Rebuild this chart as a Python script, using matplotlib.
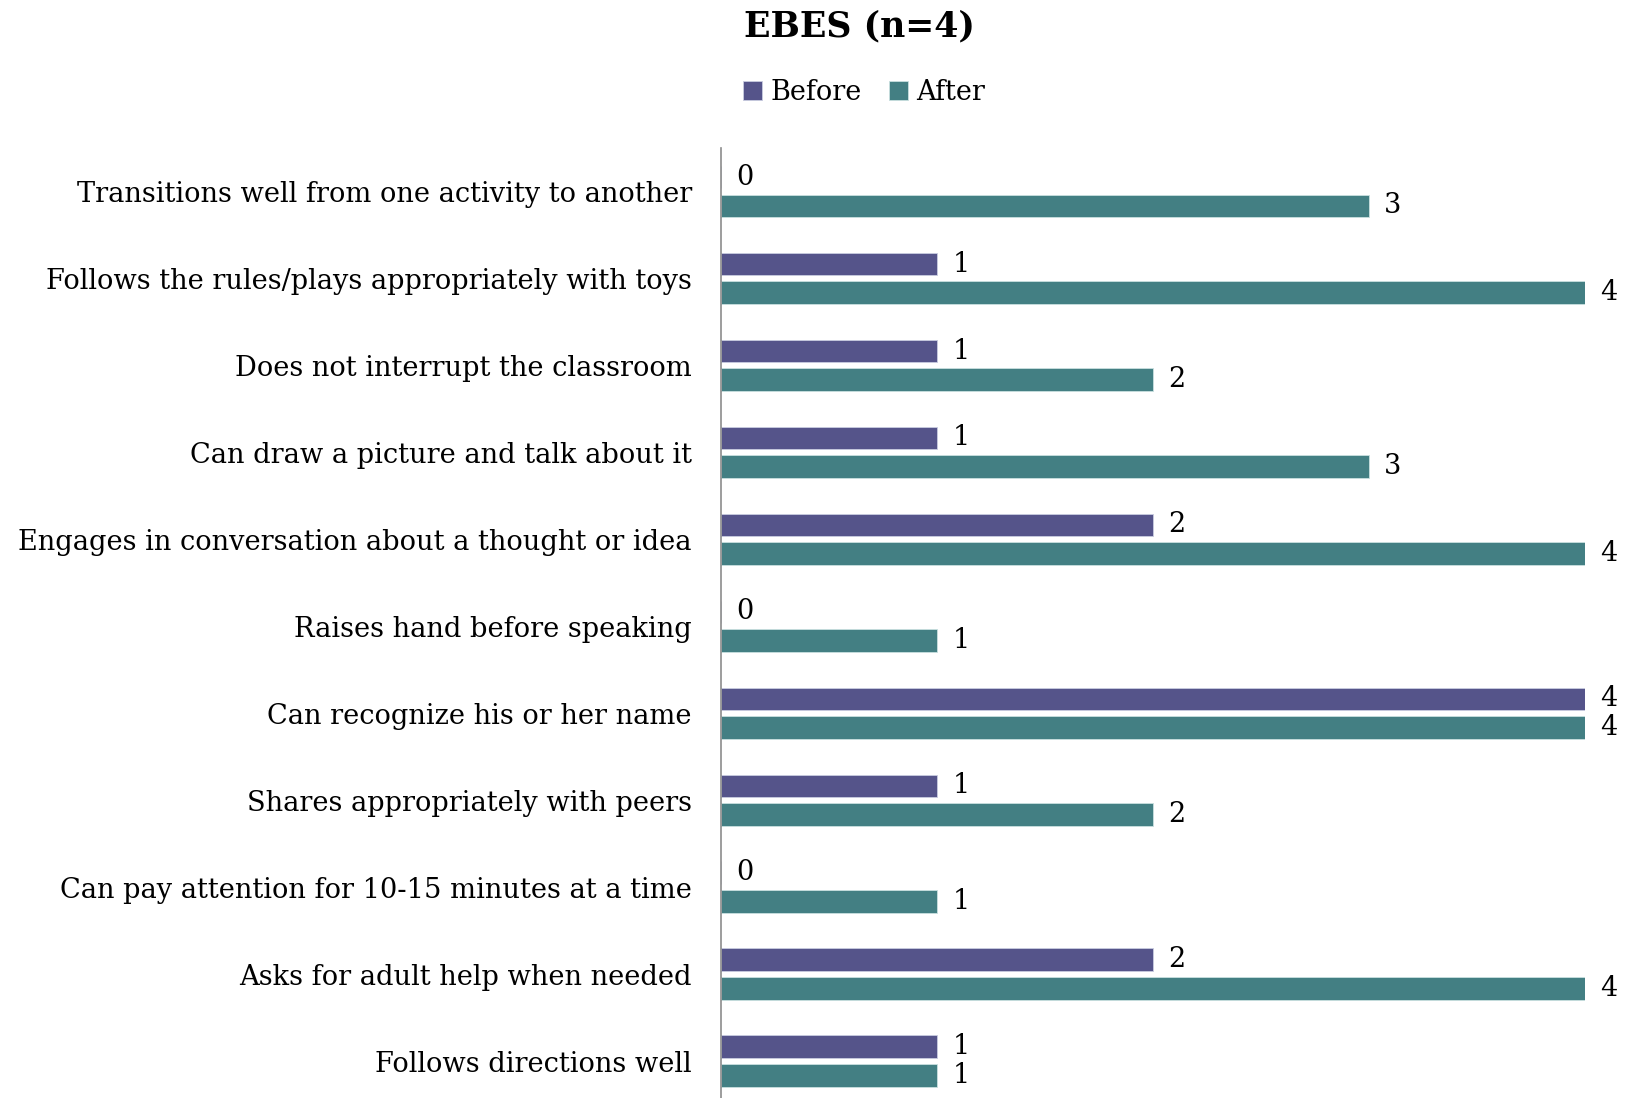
import matplotlib
matplotlib.use("Agg")
import matplotlib.pyplot as plt
import numpy as np

categories = [
    "Transitions well from one activity to another",
    "Follows the rules/plays appropriately with toys",
    "Does not interrupt the classroom",
    "Can draw a picture and talk about it",
    "Engages in conversation about a thought or idea",
    "Raises hand before speaking",
    "Can recognize his or her name",
    "Shares appropriately with peers",
    "Can pay attention for 10-15 minutes at a time",
    "Asks for adult help when needed",
    "Follows directions well",
]
before = [0, 1, 1, 1, 2, 0, 4, 1, 0, 2, 1]
after = [3, 4, 2, 3, 4, 1, 4, 2, 1, 4, 1]
series_names = ["Before", "After"]
colors = ["#55548A", "#437F83"]

plt.rcParams['font.family'] = ['DejaVu Serif']

W, H = 1627, 1098
fig = plt.figure(figsize=(W / 100, H / 100), dpi=100)
ax = fig.add_axes([721 / W, (H - 1104.5) / H, (1585 - 721) / W, (1104.5 - 148) / H])

y = np.arange(len(categories))
bh = 0.26
off = 0.165
b1 = ax.barh(y - off, before, height=bh, color=colors[0], edgecolor="#C9CCE0", linewidth=0.6, label=series_names[0])
b2 = ax.barh(y + off, after, height=bh, color=colors[1], edgecolor="#C9E0E0", linewidth=0.6, label=series_names[1])

for bars, vals in ((b1, before), (b2, after)):
    for rect, v in zip(bars, vals):
        ax.annotate(str(v), (v, rect.get_y() + rect.get_height() / 2),
                    xytext=(11, 0), textcoords="offset points",
                    ha="left", va="center", fontsize=19.5, color="black",
                    annotation_clip=False)

ax.set_xlim(0, 4)
ax.set_ylim(len(categories) - 0.5, -0.5)
ax.set_yticks(y)
ax.set_yticklabels(categories, fontsize=19.6)
ax.tick_params(axis="y", length=0, pad=21)
ax.set_xticks([])
for s in ["top", "right", "bottom"]:
    ax.spines[s].set_visible(False)
ax.spines["left"].set_color("#8C8C8C")
ax.spines["left"].set_linewidth(1.2)

fig.text(859 / W, 1 - 26 / H, "EBES (n=4)", ha="center", va="center", fontsize=25, fontweight="bold")
fig.legend(handles=[b1, b2], labels=series_names, loc="center", bbox_to_anchor=(864 / W, 1 - 92 / H),
           ncol=2, frameon=False, fontsize=19.5, handlelength=0.7, handleheight=0.7,
           handletextpad=0.3, columnspacing=1.0)

fig.savefig("out.png", dpi=100)
